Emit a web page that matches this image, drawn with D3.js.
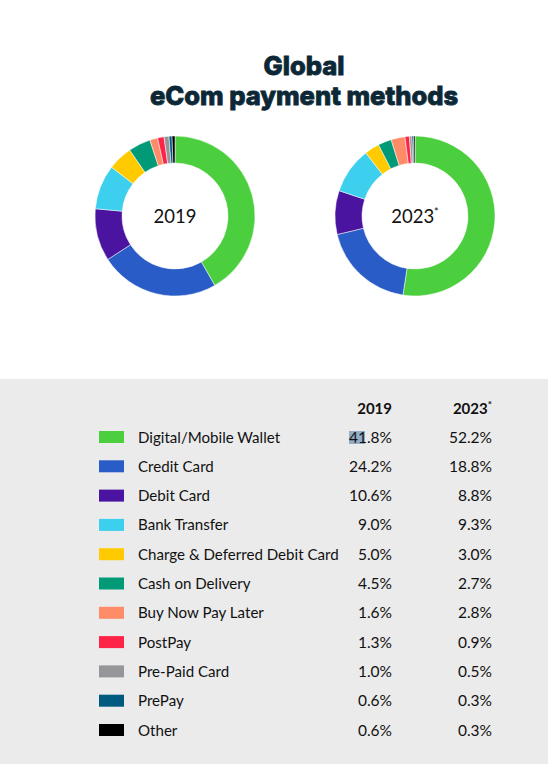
<!DOCTYPE html>
<html>
<head>
<meta charset="utf-8">
<script src="https://cdn.jsdelivr.net/npm/d3@7"></script>
<style>
  body { margin: 0; background: #fff; }
  svg { display: block; }
</style>
</head>
<body>
<svg id="chart" width="548" height="764"></svg>
<script>
// payment methods, same order in the donuts and in the table
var categories = ["Digital/Mobile Wallet", "Credit Card", "Debit Card", "Bank Transfer",
  "Charge & Deferred Debit Card", "Cash on Delivery", "Buy Now Pay Later", "PostPay",
  "Pre-Paid Card", "PrePay", "Other"];
var share2019 = [41.8, 24.2, 10.6, 9.0, 5.0, 4.5, 1.6, 1.3, 1.0, 0.6, 0.6];
var share2023 = [52.2, 18.8, 8.8, 9.3, 3.0, 2.7, 2.8, 0.9, 0.5, 0.3, 0.3];
var colors = ["#4ccf3f", "#2a5cc7", "#4a14a0", "#3ccfee", "#ffcb00", "#009b76",
  "#ff8c68", "#ff2447", "#96969a", "#005a7f", "#000000"];
var years = ["2019", "2023"];

var width = 548, height = 764;
var svg = d3.select("#chart");
var color = d3.scaleOrdinal().domain(categories).range(colors);
var fmt = d3.format(".1f");

/** title - heavy, so a thin stroke thickens the glyphs */
var title = svg.append("text")
  .attr("x", 304)
  .attr("text-anchor", "middle")
  .style("font-family", "Inter")
  .style("font-weight", 800)
  .style("font-size", "25.5px")
  .style("fill", "#0c2836")
  .style("stroke", "#0c2836")
  .style("stroke-width", 0.8);
title.append("tspan").attr("x", 304).attr("y", 75).text("Global");
title.append("tspan").attr("x", 304).attr("y", 105).text("eCom payment methods");

/** donuts */
var pie = d3.pie().sort(null).value(d => d.value);
var arc = d3.arc().innerRadius(53).outerRadius(80);
var centerX = d3.scalePoint().domain(years).range([175, 415]);

var series = { "2019": share2019, "2023": share2023 };

years.forEach(function (year) {
  var rows = categories.map((c, i) => ({ name: c, value: series[year][i] }));
  var g = svg.append("g")
    .attr("transform", `translate(${centerX(year)}, 216)`);

  g.selectAll("path")
    .data(pie(rows))
    .enter().append("path")
    .attr("d", arc)
    .attr("fill", d => color(d.data.name))
    .attr("stroke", "#fff")
    .attr("stroke-width", 0.5);

  var label = g.append("text")
    .attr("y", 7)
    .attr("text-anchor", "middle")
    .style("font-family", "Lato")
    .style("font-size", "18.5px")
    .style("fill", "#111");
  label.append("tspan").text(year);
  if (year === "2023") {
    label.append("tspan").attr("dy", -7).style("font-size", "11px").text("*");
  }
});

/** table panel */
svg.append("rect")
  .attr("x", 0).attr("y", 379)
  .attr("width", width).attr("height", height - 379)
  .attr("fill", "#ebebeb");

var rowY = d3.scalePoint().domain(categories).range([437, 730]);
var colX = d3.scalePoint().domain(years).range([392, 492]);

// column headers
years.forEach(function (year) {
  var h = svg.append("text")
    .attr("x", colX(year))
    .attr("y", 414)
    .attr("text-anchor", "end")
    .style("font-family", "Lato")
    .style("font-weight", 700)
    .style("font-size", "15px")
    .style("fill", "#111");
  h.append("tspan").text(year);
  if (year === "2023") {
    h.append("tspan").attr("dy", -6).style("font-size", "10px").text("*");
  }
});

// leftover selection highlight on the first value
svg.append("rect")
  .attr("x", 349).attr("y", rowY(categories[0]) - 6)
  .attr("width", 16).attr("height", 13)
  .attr("fill", "#93adc6");

var row = svg.selectAll("g.row")
  .data(categories)
  .enter().append("g")
  .attr("class", "row")
  .attr("transform", d => `translate(0, ${rowY(d)})`);

row.append("rect")
  .attr("x", 99).attr("y", -6)
  .attr("width", 25).attr("height", 12)
  .attr("fill", d => color(d));

row.append("text")
  .attr("x", 138).attr("y", 5.5)
  .style("font-family", "Lato")
  .style("font-size", "15.1px")
  .style("fill", "#111")
  .text(d => d);

years.forEach(function (year) {
  row.append("text")
    .attr("x", colX(year)).attr("y", 5.5)
    .attr("text-anchor", "end")
    .style("font-family", "Lato")
    .style("font-size", "15.5px")
    .style("fill", "#111")
    .text((d, i) => fmt(series[year][i]) + "%");
});
</script>
</body>
</html>
